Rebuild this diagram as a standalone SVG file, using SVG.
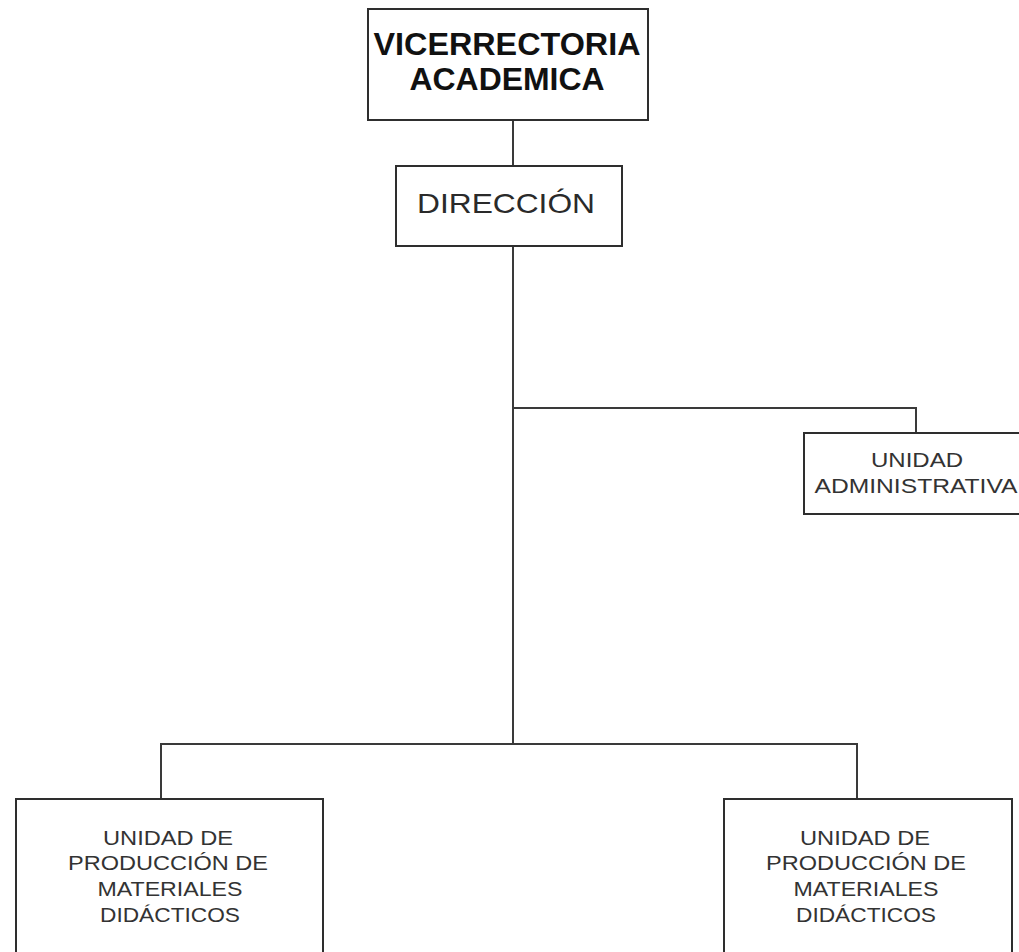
<svg xmlns="http://www.w3.org/2000/svg" width="1019" height="952" viewBox="0 0 1019 952">
  <style>
    .box { fill: #ffffff; stroke: #2e2e2e; stroke-width: 2; }
    .link { fill: none; stroke: #3a3a3a; stroke-width: 2; }
    .lbl { font-family: "Liberation Sans", Arial, sans-serif; fill: #2a2a2a; text-anchor: middle; }
    .big { font-size: 31px; font-weight: bold; fill: #111111; }
    .mid { font-size: 28px; }
    .small { font-size: 20px; fill: #333333; }
  </style>
  <rect width="1019" height="952" fill="#ffffff"/>

  <!-- connectors -->
  <g id="connectors">
    <line class="link" x1="513" y1="120" x2="513" y2="166"/>
    <line class="link" x1="513" y1="246" x2="513" y2="744"/>
    <polyline class="link" points="513,408 916,408 916,433"/>
    <polyline class="link" points="161,799 161,744 857,744 857,799"/>
  </g>

  <!-- top level -->
  <g id="vicerrectoria">
    <rect class="box" x="368" y="9" width="280" height="111"/>
    <text class="lbl big" x="507" y="55" textLength="267" lengthAdjust="spacingAndGlyphs">VICERRECTORIA</text>
    <text class="lbl big" x="507" y="90" textLength="195" lengthAdjust="spacingAndGlyphs">ACADEMICA</text>
  </g>

  <g id="direccion">
    <rect class="box" x="396" y="166" width="226" height="80"/>
    <text class="lbl mid" x="506" y="213" textLength="178" lengthAdjust="spacingAndGlyphs">DIRECCIÓN</text>
  </g>

  <g id="unidad-administrativa">
    <rect class="box" x="804" y="433" width="225" height="81"/>
    <text class="lbl small" x="917" y="467" textLength="92" lengthAdjust="spacingAndGlyphs">UNIDAD</text>
    <text class="lbl small" x="916" y="493" textLength="203" lengthAdjust="spacingAndGlyphs">ADMINISTRATIVA</text>
  </g>

  <g id="produccion-izq">
    <rect class="box" x="16" y="799" width="307" height="170"/>
    <text class="lbl small" x="168" y="845" textLength="130" lengthAdjust="spacingAndGlyphs">UNIDAD DE</text>
    <text class="lbl small" x="168" y="870" textLength="200" lengthAdjust="spacingAndGlyphs">PRODUCCIÓN DE</text>
    <text class="lbl small" x="170" y="896" textLength="145" lengthAdjust="spacingAndGlyphs">MATERIALES</text>
    <text class="lbl small" x="170" y="922" textLength="140" lengthAdjust="spacingAndGlyphs">DIDÁCTICOS</text>
  </g>

  <g id="produccion-der">
    <rect class="box" x="724" y="799" width="288" height="170"/>
    <text class="lbl small" x="865" y="845" textLength="130" lengthAdjust="spacingAndGlyphs">UNIDAD DE</text>
    <text class="lbl small" x="866" y="870" textLength="200" lengthAdjust="spacingAndGlyphs">PRODUCCIÓN DE</text>
    <text class="lbl small" x="866" y="896" textLength="145" lengthAdjust="spacingAndGlyphs">MATERIALES</text>
    <text class="lbl small" x="866" y="922" textLength="140" lengthAdjust="spacingAndGlyphs">DIDÁCTICOS</text>
  </g>
</svg>
